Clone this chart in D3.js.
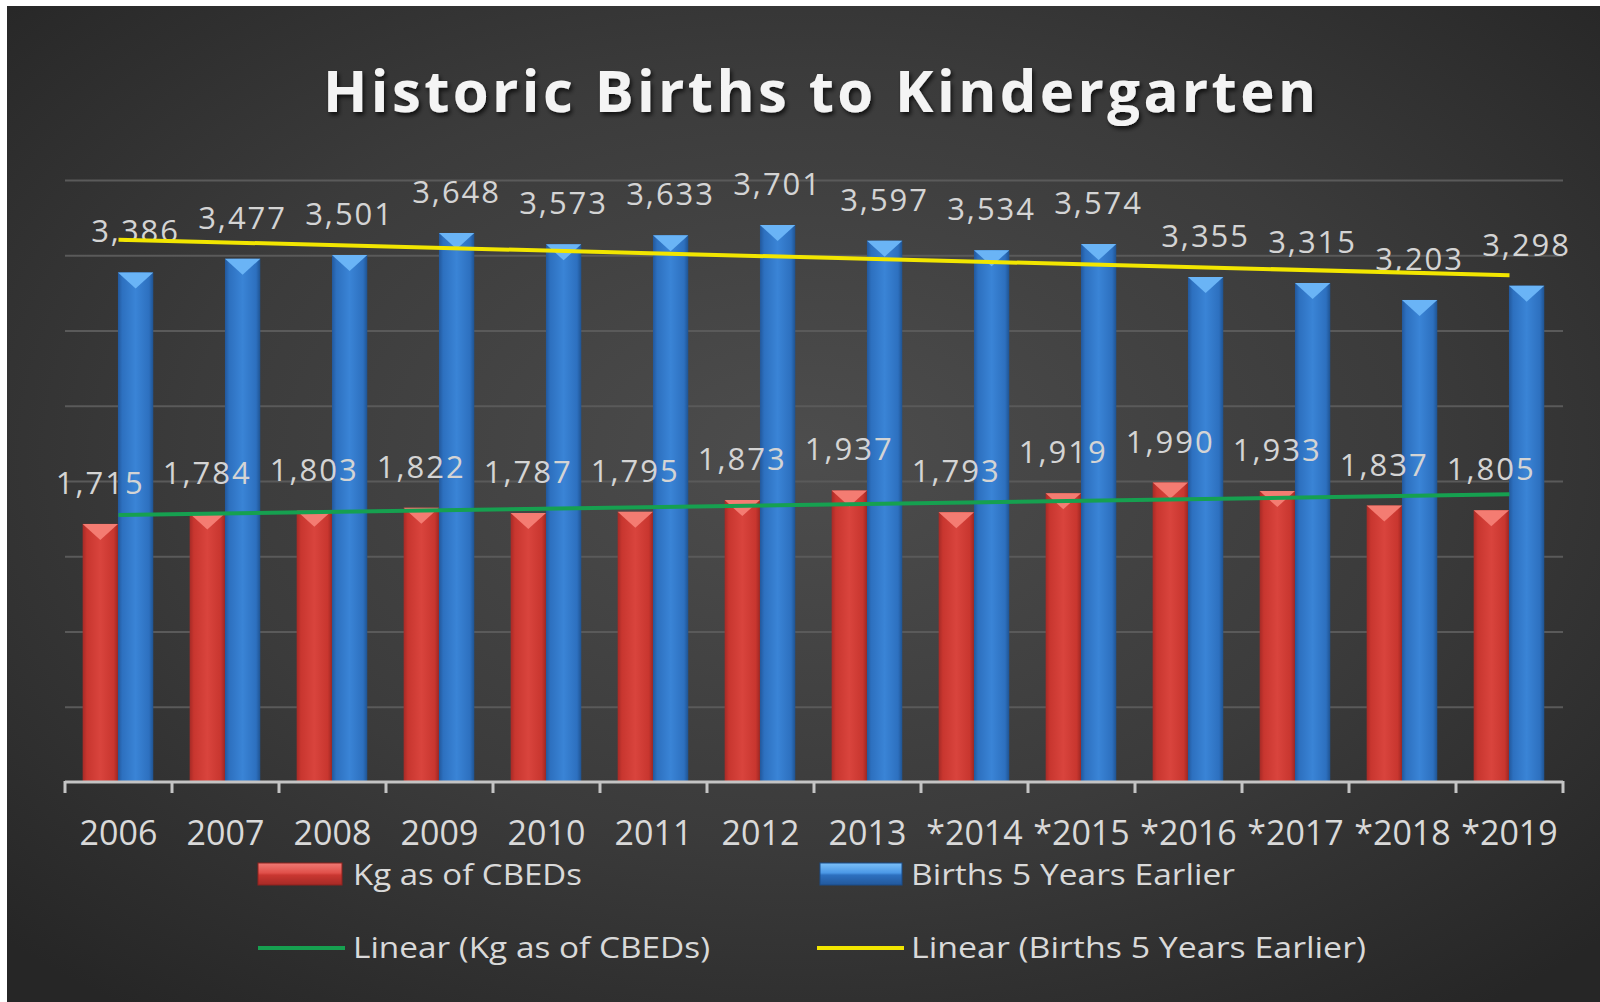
<!DOCTYPE html>
<html>
<head>
<meta charset="utf-8">
<script src="https://cdn.jsdelivr.net/npm/d3@7"></script>
<style>
  html, body { margin: 0; padding: 0; background: #ffffff; }
  svg { display: block; }
</style>
</head>
<body>
<svg id="chart" width="1600" height="1002"></svg>
<script>
const categories = ["2006","2007","2008","2009","2010","2011","2012","2013","*2014","*2015","*2016","*2017","*2018","*2019"];
const kgValues = [1715,1784,1803,1822,1787,1795,1873,1937,1793,1919,1990,1933,1837,1805];
const birthValues = [3386,3477,3501,3648,3573,3633,3701,3597,3534,3574,3355,3315,3203,3298];
const seriesNames = ["Kg as of CBEDs","Births 5 Years Earlier"];
const trendNames = ["Linear (Kg as of CBEDs)","Linear (Births 5 Years Earlier)"];
const yTicks = [0,500,1000,1500,2000,2500,3000,3500,4000];
const titleText = "Historic Births to Kindergarten";

const svg = d3.select("#chart");
const defs = svg.append("defs");

// background radial gradient
const bg = defs.append("radialGradient").attr("id","bgGrad")
  .attr("cx","50%").attr("cy","45%").attr("r","70%");
bg.append("stop").attr("offset","0%").attr("stop-color","#4d4d4d");
bg.append("stop").attr("offset","55%").attr("stop-color","#3b3b3b");
bg.append("stop").attr("offset","100%").attr("stop-color","#262626");

function barGrad(id, stops){
  const g = defs.append("linearGradient").attr("id",id).attr("x1","0%").attr("x2","100%").attr("y1","0%").attr("y2","0%");
  stops.forEach(s => g.append("stop").attr("offset",s[0]).attr("stop-color",s[1]));
}
barGrad("redGrad",[["0%","#a62a26"],["12%","#c8362f"],["50%","#d9443d"],["88%","#c8362f"],["100%","#9e2723"]]);
barGrad("blueGrad",[["0%","#22589c"],["12%","#2d70bf"],["50%","#3a84d6"],["88%","#2d70bf"],["100%","#1f5391"]]);

function vGrad(id, stops){
  const g = defs.append("linearGradient").attr("id",id).attr("x1","0%").attr("x2","0%").attr("y1","0%").attr("y2","100%");
  stops.forEach(s => g.append("stop").attr("offset",s[0]).attr("stop-color",s[1]));
}
vGrad("redSw",[["0%","#f07a74"],["45%","#e0504a"],["55%","#c93731"],["100%","#a62a26"]]);
vGrad("blueSw",[["0%","#7cc0f8"],["45%","#4b98e6"],["55%","#2d70bf"],["100%","#22589c"]]);

const shadow = defs.append("filter").attr("id","tshadow").attr("x","-5%").attr("y","-20%").attr("width","110%").attr("height","150%");
shadow.append("feDropShadow").attr("dx",2).attr("dy",3).attr("stdDeviation",2).attr("flood-color","#000").attr("flood-opacity",0.7);

svg.append("rect").attr("x",7).attr("y",6).attr("width",1593).attr("height",996).attr("fill","url(#bgGrad)");

// title
svg.append("text").attr("x",323).attr("y",112)
  .attr("font-family","'Open Sans', sans-serif").attr("font-weight","bold").attr("font-size",58)
  .attr("fill","#f4f4f4").attr("textLength",993).attr("lengthAdjust","spacing")
  .attr("filter","url(#tshadow)").text(titleText);

// scales
const x0 = d3.scaleBand().domain(categories).range([65,1563]).padding(0);
const bw = x0.bandwidth();
const x1 = d3.scaleBand().domain(seriesNames).range([0.165*bw, 0.825*bw]).padding(0);
const y = d3.scaleLinear().domain([0,4000]).range([782,180]);

// gridlines
const grid = svg.append("g").attr("transform","translate(65,0)")
  .call(d3.axisLeft(y).tickValues(yTicks.slice(1)).tickSize(-(1563-65)).tickFormat(""));
grid.select(".domain").remove();
grid.selectAll(".tick line").attr("stroke","#5a5a5a").attr("stroke-width",2);

// bars
const data = categories.map((c,i) => ({cat:c, vals:[{s:seriesNames[0],v:kgValues[i]},{s:seriesNames[1],v:birthValues[i]}]}));
const gBars = svg.append("g");
const groups = gBars.selectAll("g.cat").data(data).join("g").attr("class","cat")
  .attr("transform", d => `translate(${x0(d.cat)},0)`);
groups.selectAll("rect").data(d => d.vals).join("rect")
  .attr("x", d => x1(d.s)).attr("width", x1.bandwidth())
  .attr("y", d => y(d.v)).attr("height", d => y(0) - y(d.v))
  .attr("fill", d => d.s === seriesNames[0] ? "url(#redGrad)" : "url(#blueGrad)");
groups.selectAll("path.tri").data(d => d.vals).join("path").attr("class","tri")
  .attr("d", d => {
    const xl = x1(d.s), w = x1.bandwidth(), t = y(d.v);
    return `M${xl},${t}L${xl+w},${t}L${xl+w/2},${t+16}Z`;
  })
  .attr("fill", d => d.s === seriesNames[0] ? "#f47c72" : "#6ab4f6");

// trend lines (least-squares fit of each series)
function fit(vals){
  const n = vals.length, mx = (n-1)/2, my = d3.mean(vals);
  let sxy = 0, sxx = 0;
  vals.forEach((v,i) => { sxy += (i-mx)*(v-my); sxx += (i-mx)*(i-mx); });
  const b = sxy/sxx, a = my - b*mx;
  return [[0, a],[n-1, a + b*(n-1)]];
}
const xc = i => x0(categories[i]) + bw/2;
const line = d3.line().x(d => xc(d[0])).y(d => y(d[1]));
svg.append("path").attr("d", line(fit(kgValues))).attr("stroke","#16a050").attr("stroke-width",4).attr("fill","none");
svg.append("path").attr("d", line(fit(birthValues))).attr("stroke","#f2e600").attr("stroke-width",4).attr("fill","none");

// data labels
const fmt = d3.format(",");
groups.selectAll("text.lbl").data(d => d.vals).join("text").attr("class","lbl")
  .attr("x", d => x1(d.s) + x1.bandwidth()/2).attr("y", d => y(d.v) - 30)
  .attr("text-anchor","middle").attr("font-family","'Open Sans', sans-serif").attr("font-size",31)
  .attr("letter-spacing",2).attr("fill","#d4d4d4").text(d => fmt(d.v));

// x axis
svg.append("line").attr("x1",65).attr("x2",1563).attr("y1",782).attr("y2",782)
  .attr("stroke","#c4c4c4").attr("stroke-width",3);
const tickPos = categories.map(c => x0(c)).concat([x0.range()[1]]);
svg.selectAll("line.xt").data(tickPos).join("line").attr("class","xt")
  .attr("x1", d => d).attr("x2", d => d).attr("y1",781).attr("y2",793)
  .attr("stroke","#c4c4c4").attr("stroke-width",3);
svg.selectAll("text.xl").data(categories).join("text").attr("class","xl")
  .attr("x", d => x0(d) + bw/2).attr("y",845).attr("text-anchor","middle")
  .attr("font-family","'Open Sans', sans-serif").attr("font-size",34).attr("fill","#d9d9d9")
  .text(d => d);

// legend
const legend = svg.append("g");
legend.append("rect").attr("x",258).attr("y",863).attr("width",84).attr("height",22)
  .attr("fill","url(#redSw)").attr("stroke","#8e221f").attr("stroke-width",1);
legend.append("rect").attr("x",820).attr("y",863).attr("width",82).attr("height",22)
  .attr("fill","url(#blueSw)").attr("stroke","#1b4d8a").attr("stroke-width",1);
legend.append("line").attr("x1",258).attr("x2",345).attr("y1",948).attr("y2",948)
  .attr("stroke","#16a050").attr("stroke-width",4);
legend.append("line").attr("x1",817).attr("x2",904).attr("y1",948).attr("y2",948)
  .attr("stroke","#f2e600").attr("stroke-width",4);
const legTexts = [
  {t:seriesNames[0], x:353, y:885, w:229},
  {t:seriesNames[1], x:911, y:885, w:324},
  {t:trendNames[0], x:353, y:958, w:357},
  {t:trendNames[1], x:911, y:958, w:455}
];
legend.selectAll("text").data(legTexts).join("text")
  .attr("x", d => d.x).attr("y", d => d.y)
  .attr("font-family","'Open Sans', sans-serif").attr("font-size",29).attr("fill","#d9d9d9")
  .attr("textLength", d => d.w).attr("lengthAdjust","spacingAndGlyphs")
  .text(d => d.t);
</script>
</body>
</html>
